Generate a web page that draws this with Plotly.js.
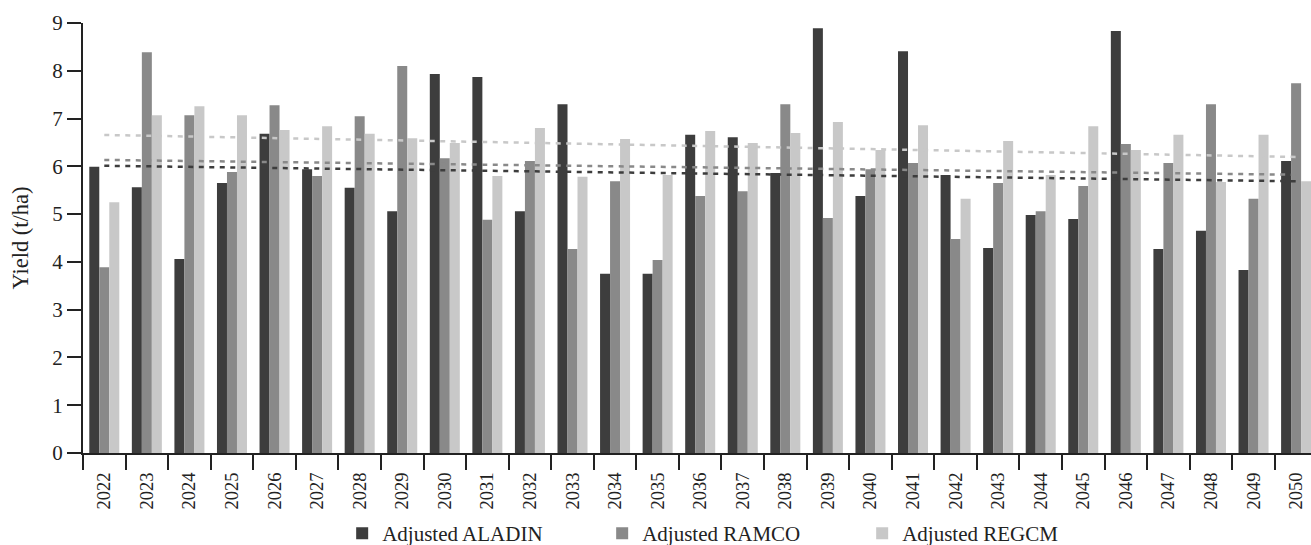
<!DOCTYPE html>
<html>
<head>
<meta charset="utf-8">
<script src="https://cdn.plot.ly/plotly-3.0.1.min.js"></script>
<style>
  html, body { margin: 0; padding: 0; background: #ffffff; }
  #chart { width: 1311px; height: 545px; }
</style>
</head>
<body>
<div id="chart"></div>
<script>
// ---- data ----
var years = ['2022','2023','2024','2025','2026','2027','2028','2029','2030','2031',
             '2032','2033','2034','2035','2036','2037','2038','2039','2040','2041',
             '2042','2043','2044','2045','2046','2047','2048','2049','2050'];

var seriesNames = ['Adjusted ALADIN', 'Adjusted RAMCO', 'Adjusted REGCM'];

var aladin = [5.99, 5.56, 4.06, 5.65, 6.68, 5.94, 5.55, 5.06, 7.93, 7.87,
              5.06, 7.30, 3.75, 3.75, 6.66, 6.61, 5.86, 8.89, 5.38, 8.41,
              5.82, 4.29, 4.98, 4.90, 8.83, 4.27, 4.65, 3.83, 6.11];

var ramco  = [3.89, 8.39, 7.07, 5.88, 7.28, 5.80, 7.05, 8.10, 6.17, 4.88,
              6.11, 4.27, 5.69, 4.04, 5.38, 5.48, 7.30, 4.92, 5.94, 6.07,
              4.48, 5.65, 5.06, 5.59, 6.47, 6.07, 7.30, 5.32, 7.74];

var regcm  = [5.25, 7.07, 7.26, 7.07, 6.76, 6.84, 6.68, 6.59, 6.49, 5.80,
              6.80, 5.78, 6.57, 5.82, 6.74, 6.49, 6.70, 6.93, 6.34, 6.86,
              5.32, 6.53, 5.82, 6.84, 6.34, 6.66, 5.67, 6.66, 5.69];

var yTickVals = [0,1,2,3,4,5,6,7,8,9];

// ---- styling ----
var colors = ['#3d3d3d', '#898989', '#c8c8c8'];
var fontFamily = 'Liberation Serif, Times New Roman, serif';
var ink = '#222222';

// linear (least squares) trend of a series over the year index
function linearTrend(vals) {
  var n = vals.length, sx = 0, sy = 0, sxx = 0, sxy = 0;
  for (var i = 0; i < n; i++) { sx += i; sy += vals[i]; sxx += i*i; sxy += i*vals[i]; }
  var b = (n*sxy - sx*sy) / (n*sxx - sx*sx);
  var a = (sy - b*sx) / n;
  return vals.map(function(_, i){ return a + b*i; });
}

var allSeries = [aladin, ramco, regcm];
var traces = [];
allSeries.forEach(function(vals, k){
  traces.push({
    type: 'bar', x: years, y: vals, name: seriesNames[k],
    marker: { color: colors[k], line: { width: 0 } },
    hoverinfo: 'x+y+name'
  });
});
allSeries.forEach(function(vals, k){
  traces.push({
    type: 'scatter', mode: 'lines', x: years, y: linearTrend(vals),
    name: 'Linear (' + seriesNames[k] + ')', showlegend: false,
    line: { color: colors[k], width: 2.5, dash: '5px,5.5px' },
    hoverinfo: 'skip'
  });
});

var layout = {
  width: 1311, height: 545,
  margin: { l: 83, r: 0, t: 23, b: 92, pad: 0 },
  paper_bgcolor: '#ffffff', plot_bgcolor: '#ffffff',
  font: { family: fontFamily, color: ink, size: 19 },
  barmode: 'group', bargap: 0.295, bargroupgap: 0,
  showlegend: true,
  legend: {
    orientation: 'h', xref: 'container', yref: 'container',
    x: 0.261, xanchor: 'left', y: 0.021, yanchor: 'middle',
    font: { family: fontFamily, size: 21, color: ink },
    entrywidthmode: 'pixels', entrywidth: 215,
    traceorder: 'normal', bgcolor: 'rgba(0,0,0,0)'
  },
  xaxis: {
    type: 'category', range: [-0.5, 28.35], fixedrange: true,
    showline: true, linecolor: ink, linewidth: 2,
    ticks: 'outside', tickson: 'boundaries', ticklen: 15, tickwidth: 2, tickcolor: ink,
    tickangle: -90, ticklabelstandoff: 10,
    tickfont: { family: fontFamily, size: 18.5, color: ink },
    showgrid: false, zeroline: false
  },
  yaxis: {
    range: [0, 9], fixedrange: true, tickmode: 'array', tickvals: yTickVals,
    ticktext: yTickVals.map(String),
    showline: true, linecolor: ink, linewidth: 2,
    ticks: 'outside', ticklen: 14, tickwidth: 2, tickcolor: ink,
    tickfont: { family: fontFamily, size: 21, color: ink },
    showgrid: false, zeroline: false,
    title: { text: 'Yield (t/ha)', font: { family: fontFamily, size: 22.5, color: ink }, standoff: 17 }
  }
};

Plotly.newPlot('chart', traces, layout, { staticPlot: true, displayModeBar: false });
</script>
</body>
</html>
